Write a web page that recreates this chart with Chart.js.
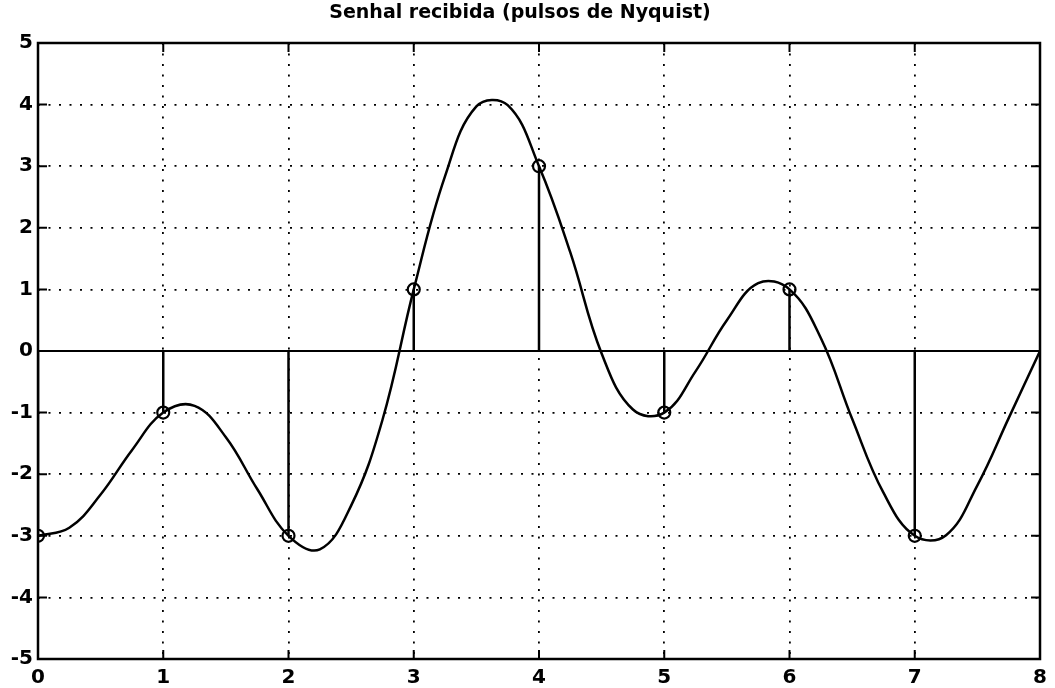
<!DOCTYPE html>
<html lang="pt">
<head>
<meta charset="UTF-8">
<title>Senhal recibida</title>
<script src="https://cdn.jsdelivr.net/npm/chart.js"></script>
<style>
  html, body { margin: 0; padding: 0; background: #fff; }
  #wrap { position: relative; width: 1055px; height: 688px; }
</style>
</head>
<body>
<div id="wrap"><canvas id="sinal"></canvas></div>
<script>
// amostras (instantes de decisão)
const sampleX = [0, 1, 2, 3, 4, 5, 6, 7];
const sampleY = [-3, -1, -3, 1, 3, -1, 1, -3];

// sinal contínuo recebido, lido a cada 0.25
const curveX = [0, 0.25, 0.5, 0.75, 1, 1.25, 1.5, 1.75, 2, 2.25, 2.5, 2.75, 3, 3.25, 3.5, 3.75,
  4, 4.25, 4.5, 4.75, 5, 5.25, 5.5, 5.75, 6, 6.25, 6.5, 6.75, 7, 7.25, 7.5, 7.75, 8];
const curveY = [-3, -2.87, -2.33, -1.61, -1, -0.89, -1.4, -2.24, -3, -3.22, -2.51, -1.12, 1, 2.84, 3.97, 3.99,
  3, 1.6, -0.04, -0.95, -1, -0.33, 0.5, 1.1, 1, 0.21, -1.1, -2.3, -3, -2.99, -2.18, -1.09, 0];

const xTicks = [0, 1, 2, 3, 4, 5, 6, 7, 8];
const yTicks = [-5, -4, -3, -2, -1, 0, 1, 2, 3, 4, 5];

const FONT = "'DejaVu Sans', 'Liberation Sans', Arial, sans-serif";

// hastes: (x,0) -> (x,y), separadas por null
const stemPts = [];
sampleX.forEach((x, i) => {
  stemPts.push({ x, y: 0 }, { x, y: sampleY[i] }, { x, y: null });
});

// caixa dos eixos com marcas para dentro, nos quatro lados
const boxPlugin = {
  id: 'box',
  afterDraw(chart) {
    const { ctx, chartArea: a, scales } = chart;
    const len = 9;
    ctx.save();
    ctx.strokeStyle = '#000';
    ctx.lineWidth = 2;
    ctx.beginPath();
    xTicks.forEach(v => {
      const px = scales.x.getPixelForValue(v);
      ctx.moveTo(px, a.bottom); ctx.lineTo(px, a.bottom - len);
      ctx.moveTo(px, a.top); ctx.lineTo(px, a.top + len);
    });
    yTicks.forEach(v => {
      const py = scales.y.getPixelForValue(v);
      ctx.moveTo(a.left, py); ctx.lineTo(a.left + len, py);
      ctx.moveTo(a.right, py); ctx.lineTo(a.right - len, py);
    });
    ctx.stroke();
    ctx.lineWidth = 2.5;
    ctx.strokeRect(a.left, a.top, a.right - a.left, a.bottom - a.top);
    ctx.restore();
  }
};

new Chart(document.getElementById('sinal'), {
  type: 'scatter',
  data: {
    datasets: [
      {
        label: 'amostras',
        data: sampleX.map((x, i) => ({ x, y: sampleY[i] })),
        pointStyle: 'circle',
        pointRadius: 6,
        pointBorderWidth: 2.2,
        pointBorderColor: '#000',
        pointBackgroundColor: 'rgba(0,0,0,0)',
        showLine: false,
        order: 0
      },
      {
        label: 'sinal',
        data: curveX.map((x, i) => ({ x, y: curveY[i] })),
        showLine: true,
        borderColor: '#000',
        borderWidth: 2.5,
        pointRadius: 0,
        tension: 0.4,
        order: 1
      },
      {
        label: 'hastes',
        data: stemPts,
        showLine: true,
        spanGaps: false,
        borderColor: '#000',
        borderWidth: 2.5,
        pointRadius: 0,
        order: 2
      },
      {
        label: 'zero',
        data: [{ x: xTicks[0], y: 0 }, { x: xTicks[xTicks.length - 1], y: 0 }],
        showLine: true,
        borderColor: '#000',
        borderWidth: 2.2,
        pointRadius: 0,
        order: 3
      }
    ]
  },
  options: {
    responsive: true,
    maintainAspectRatio: false,
    animation: false,
    layout: { padding: { top: 0, right: 15, bottom: 0, left: 0 } },
    plugins: {
      legend: { display: false },
      tooltip: { enabled: false },
      title: {
        display: true,
        text: 'Senhal recibida (pulsos de Nyquist)',
        color: '#000',
        font: { family: FONT, size: 19, weight: 'bold' },
        padding: { top: 2, bottom: 18.2 }
      }
    },
    scales: {
      x: {
        type: 'linear',
        min: 0, max: 8,
        afterFit: s => { s.height = 29; },
        afterBuildTicks: s => { s.ticks = xTicks.map(v => ({ value: v })); },
        ticks: { color: '#000', padding: 7, font: { family: FONT, size: 20, weight: 'bold' } },
        grid: { color: '#000', lineWidth: 1.8, drawTicks: false },
        border: { display: false, dash: [2, 8.5] }
      },
      y: {
        type: 'linear',
        min: -5, max: 5,
        afterFit: s => { s.width = 38; },
        afterBuildTicks: s => { s.ticks = yTicks.map(v => ({ value: v })); },
        ticks: { color: '#000', padding: 5, font: { family: FONT, size: 20, weight: 'bold' } },
        grid: { color: '#000', lineWidth: 1.8, drawTicks: false },
        border: { display: false, dash: [2, 8.5] }
      }
    }
  },
  plugins: [boxPlugin]
});
</script>
</body>
</html>
